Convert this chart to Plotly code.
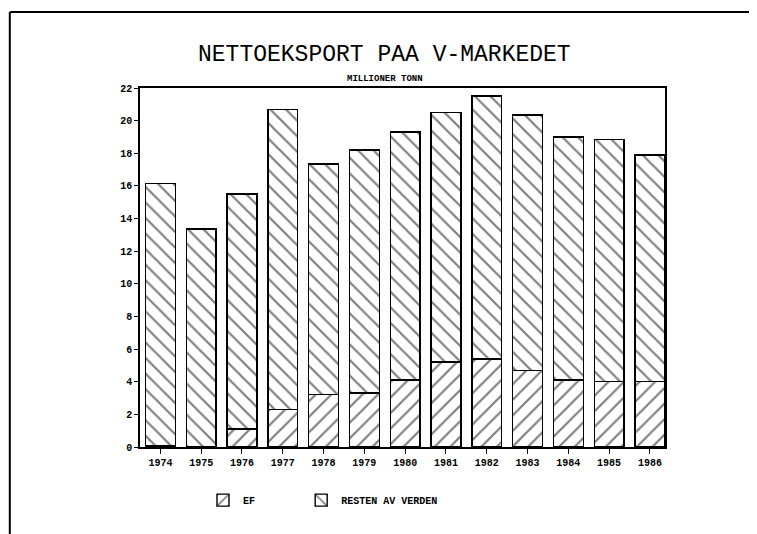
import plotly.graph_objects as go

years = ["1974", "1975", "1976", "1977", "1978", "1979", "1980",
         "1981", "1982", "1983", "1984", "1985", "1986"]
ef = [0.1, 0.0, 1.1, 2.3, 3.2, 3.3, 4.1, 5.2, 5.4, 4.7, 4.1, 4.0, 4.0]
resten = [16.05, 13.35, 14.4, 18.4, 14.15, 14.9, 15.2, 15.3, 16.1, 15.65, 14.9, 14.85, 13.9]
y_ticks = [0, 2, 4, 6, 8, 10, 12, 14, 16, 18, 20, 22]

title_text = "NETTOEKSPORT PAA V-MARKEDET"
subtitle_text = "MILLIONER TONN"
series_names = ["EF", "RESTEN AV VERDEN"]

MONO = "Liberation Mono, Courier New, monospace"

fig = go.Figure()
fig.add_trace(go.Bar(
    x=years, y=ef, name=series_names[0], legend="legend",
    marker=dict(color="white", line=dict(color="black", width=1.4),
                pattern=dict(shape="/", fgcolor="black", bgcolor="white",
                             size=11, solidity=0.2)),
))
fig.add_trace(go.Bar(
    x=years, y=resten, name=series_names[1], legend="legend2",
    marker=dict(color="white", line=dict(color="black", width=1.4),
                pattern=dict(shape="\\", fgcolor="black", bgcolor="white",
                             size=11, solidity=0.2)),
))

legend_font = dict(family=MONO, size=10, weight="bold")

fig.update_layout(
    barmode="stack",
    bargap=0.27,
    width=749, height=526,
    margin=dict(l=132, r=92, t=80, b=87),
    paper_bgcolor="white",
    plot_bgcolor="white",
    font=dict(family=MONO, color="black"),
    showlegend=True,
    legend=dict(orientation="h", x=0.12, y=-0.148, xanchor="left", yanchor="middle",
                font=legend_font, itemwidth=30),
    legend2=dict(orientation="h", x=0.307, y=-0.148, xanchor="left", yanchor="middle",
                 font=legend_font, itemwidth=30),
    annotations=[
        dict(text=title_text, x=0.466, y=1.092, xref="paper", yref="paper",
             showarrow=False, font=dict(family=MONO, size=23, color="black"),
             xanchor="center", yanchor="middle"),
        dict(text=subtitle_text, x=0.466, y=1.025, xref="paper", yref="paper",
             showarrow=False, font=dict(family=MONO, size=9, color="black", weight="bold"),
             xanchor="center", yanchor="middle"),
    ],
    shapes=[
        dict(type="line", xref="paper", yref="paper", x0=-0.248, x1=1.2, y0=1.212, y1=1.212,
             line=dict(color="black", width=2)),
        dict(type="line", xref="paper", yref="paper", x0=-0.248, x1=-0.248, y0=1.212, y1=-0.3,
             line=dict(color="black", width=2)),
    ],
)

fig.update_xaxes(
    type="category", range=[-0.5, 12.37],
    showline=True, linecolor="black", linewidth=1.5, mirror=True,
    ticks="outside", ticklen=5, tickcolor="black", tickwidth=1,
    tickfont=dict(family=MONO, size=10, weight="bold"),
    showgrid=False,
)
fig.update_yaxes(
    range=[0, 22], tickvals=y_ticks,
    showline=True, linecolor="black", linewidth=1.5, mirror=True,
    ticks="outside", ticklen=4, tickcolor="black", tickwidth=1,
    tickfont=dict(family=MONO, size=10, weight="bold"),
    showgrid=False, zeroline=False,
)

fig.write_html("out.html")
